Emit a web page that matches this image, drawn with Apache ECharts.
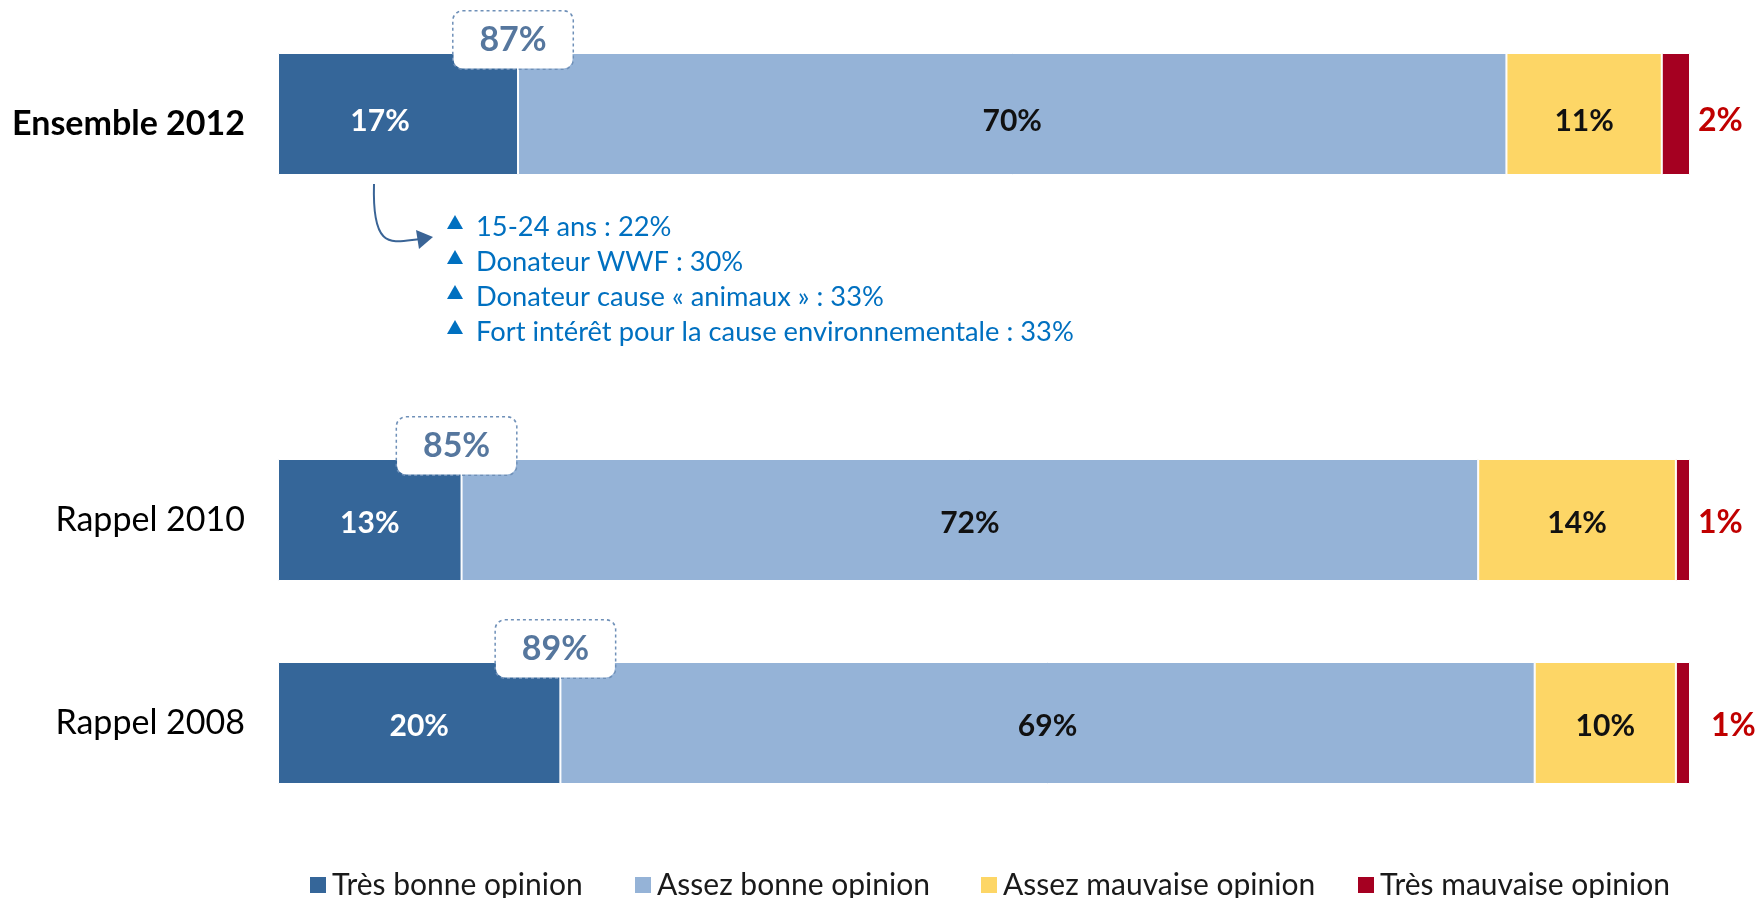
<!DOCTYPE html>
<html>
<head>
<meta charset="utf-8">
<script src="https://cdn.jsdelivr.net/npm/echarts@6/dist/echarts.min.js"></script>
<style>
  html, body { margin: 0; padding: 0; background: #fff; }
  #chart { width: 1761px; height: 898px; }
</style>
</head>
<body>
<div id="chart"></div>
<script>
const categories = ['Ensemble 2012', 'Rappel 2010', 'Rappel 2008'];
const seriesNames = ['Très bonne opinion', 'Assez bonne opinion', 'Assez mauvaise opinion', 'Très mauvaise opinion'];
const tresBonne = [17, 13, 20];
const assezBonne = [70, 72, 69];
const assezMauvaise = [11, 14, 10];
const tresMauvaise = [2, 1, 1];
const totalBonne = [87, 85, 89];
const annotations = [
    '15-24 ans : 22%',
    'Donateur WWF : 30%',
    'Donateur cause « animaux » : 33%',
    'Fort intérêt pour la cause environnementale : 33%'
];

const FONT = 'Lato';
const colors = ['#356699', '#95b3d7', '#fdd666', '#a50021'];

// an empty slot after the first bar leaves room for the annotation block
const slots = [0, 2, 3];
const axisCats = [categories[0], '', categories[1], categories[2]];
function spread(arr, tweak) {
    const out = [null, null, null, null];
    arr.forEach((v, i) => {
        const lab = tweak ? tweak(i) : null;
        out[slots[i]] = lab ? { value: v, label: lab } : v;
    });
    return out;
}

const chart = echarts.init(document.getElementById('chart'));

// small label nudges seen in the original slide
const labelTweaks = [
    i => i === 0 ? { offset: [-18, 7] } : null,
    i => i === 0 ? { offset: [0, 7] } : null,
    i => i === 0 ? { offset: [0, 7] } : null,
    i => i === 0 ? { offset: [0, 7] } : (i === 2 ? { distance: 21 } : null)
];

const barSeries = [tresBonne, assezBonne, assezMauvaise, tresMauvaise].map((arr, i) => {
    const last = i === 3;
    return {
        name: seriesNames[i],
        type: 'bar',
        stack: 'all',
        barWidth: 122,
        data: spread(arr, labelTweaks[i]),
        itemStyle: { color: colors[i], borderColor: '#fff', borderWidth: 1 },
        label: {
            show: true,
            position: last ? 'right' : 'inside',
            distance: 8,
            offset: [0, 3],
            formatter: '{c}%',
            fontFamily: FONT,
            fontWeight: 'bold',
            fontSize: last ? 32 : 30,
            color: last ? '#c00000' : (i === 0 ? '#fff' : '#111')
        },
        z: 2
    };
});

const calloutSeries = {
    type: 'scatter',
    symbolSize: 0,
    itemStyle: { color: '#fff', opacity: 1 },
    data: tresBonne.map((v, i) => [v, slots[i], totalBonne[i]]),
    label: {
        show: true,
        position: 'inside',
        offset: [-5, -74],
        formatter: p => p.data[2] + '%',
        fontFamily: FONT,
        fontWeight: 'bold',
        fontSize: 34,
        color: '#56779e',
        backgroundColor: '#fff',
        borderColor: '#6f90b8',
        borderWidth: 1.5,
        borderType: 'dotted',
        borderRadius: 9,
        width: 119,
        height: 57,
        lineHeight: 57,
        align: 'center',
        verticalAlign: 'middle'
    },
    z: 5
};

const legendLefts = [303, 628, 974, 1351];
const legends = seriesNames.map((n, i) => ({
    data: [n],
    left: legendLefts[i],
    top: 865,
    icon: 'rect',
    itemWidth: 18,
    itemHeight: 18,
    itemGap: 8,
    textStyle: { fontFamily: FONT, fontSize: 30, color: '#1a1a1a' },
    selectedMode: false
}));

// annotation list under the first bar
const annoGraphics = [];
annotations.forEach((t, i) => {
    const cy = 227 + i * 35;
    annoGraphics.push({
        type: 'polygon',
        shape: { points: [[455, cy - 12], [447, cy + 2], [463, cy + 2]] },
        style: { fill: '#0070c0' }
    });
    annoGraphics.push({
        type: 'text',
        x: 476,
        y: cy,
        style: { text: t, fill: '#0070c0', font: '27.3px ' + FONT, verticalAlign: 'middle' }
    });
});
// curved arrow pointing at the list
annoGraphics.push({
    type: 'bezierCurve',
    shape: { x1: 374, y1: 184, cpx1: 372, cpy1: 252, cpx2: 392, cpy2: 242, x2: 420, y2: 239 },
    style: { stroke: '#3a6496', lineWidth: 2, fill: null }
});
annoGraphics.push({
    type: 'polygon',
    shape: { points: [[433, 237], [416, 230], [419, 249]] },
    style: { fill: '#3a6496' }
});

const option = {
    animation: false,
    grid: { left: 278, right: 71, top: 12.5, height: 812, containLabel: false },
    xAxis: { type: 'value', min: 0, max: 100, show: false },
    yAxis: {
        type: 'category',
        inverse: true,
        data: axisCats,
        axisLine: { show: false },
        axisTick: { show: false },
        splitLine: { show: false },
        axisLabel: {
            margin: 33,
            fontFamily: FONT,
            fontSize: 34,
            color: '#000',
            formatter: (v, idx) => idx === 0 ? '{b|' + v + '}' : v,
            rich: {
                b: { fontFamily: FONT, fontSize: 34, fontWeight: 'bold', color: '#000', padding: [20, 0, 0, 0] }
            }
        }
    },
    legend: legends,
    series: barSeries.concat([calloutSeries]),
    graphic: annoGraphics
};

chart.setOption(option);
</script>
</body>
</html>
